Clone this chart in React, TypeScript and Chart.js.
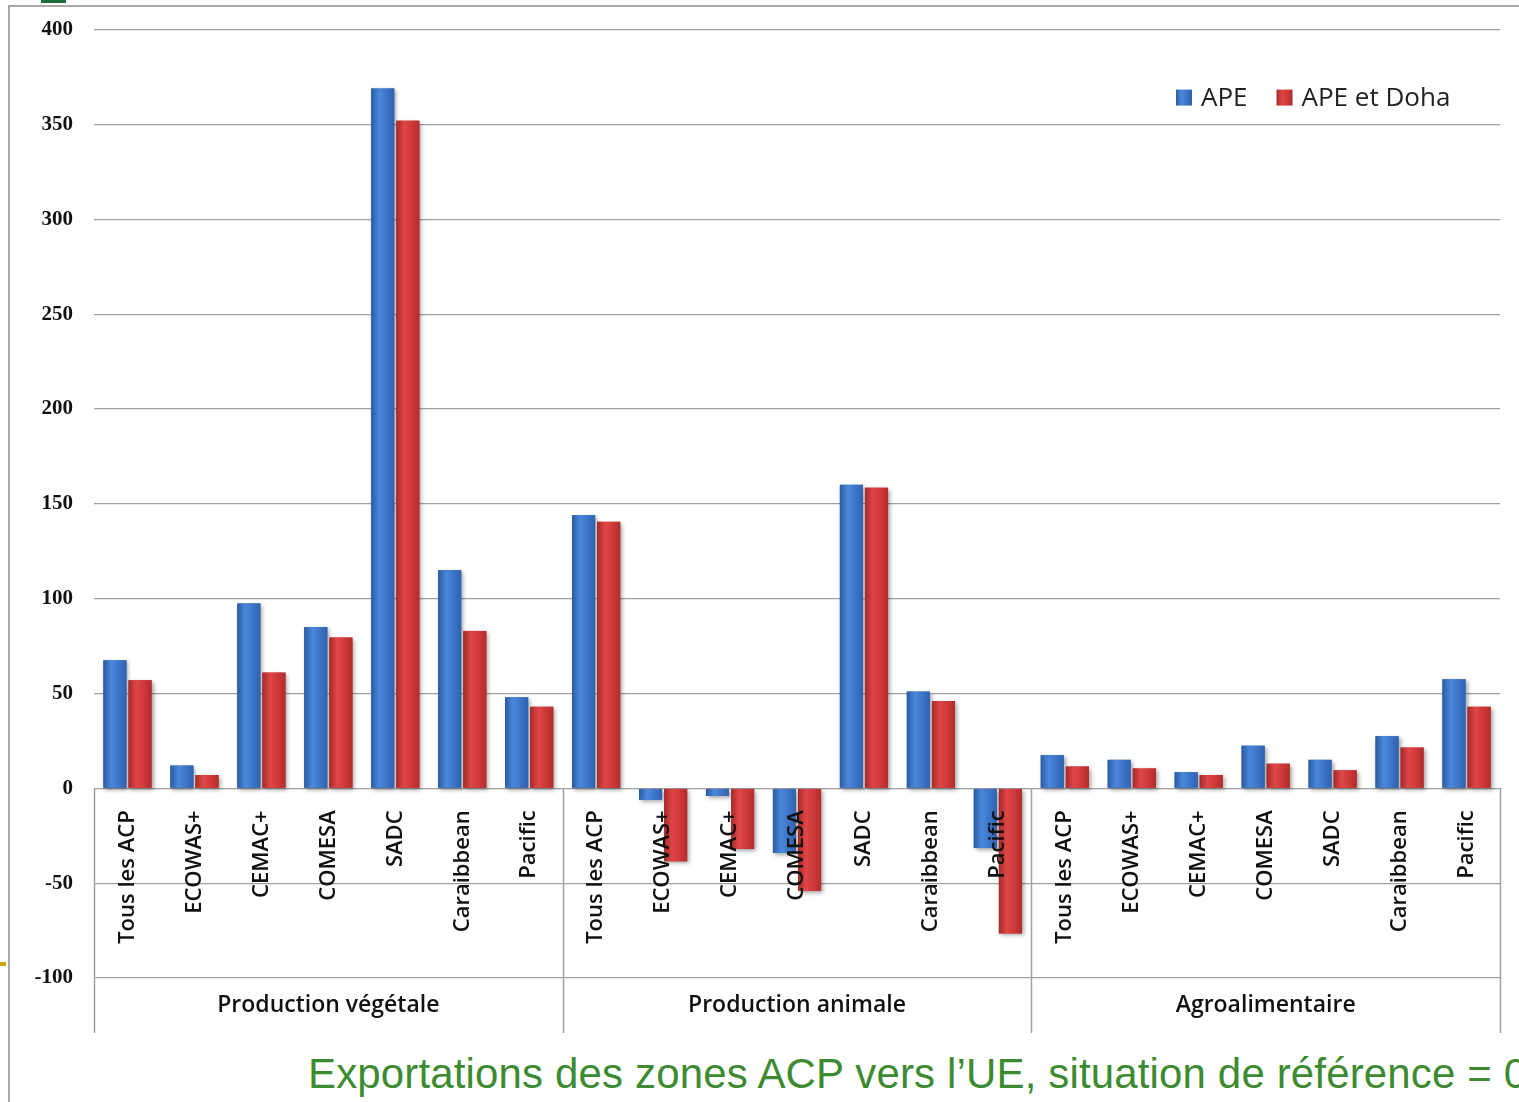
import React, { useEffect, useRef } from "react";
import { Chart, registerables } from "chart.js";

Chart.register(...registerables);

// ---- data ----
const zones = ["Tous les ACP", "ECOWAS+", "CEMAC+", "COMESA", "SADC", "Caraibbean", "Pacific"];
const groups = ["Production végétale", "Production animale", "Agroalimentaire"];

const apeVegetale = [67.5, 12, 97.5, 85, 369, 115, 48];
const apeAnimale = [144, -6, -4, -34, 160, 51, -31.5];
const apeAgro = [17.5, 15, 8.5, 22.5, 15, 27.5, 57.5];

const dohaVegetale = [57, 7, 61, 79.5, 352, 83, 43];
const dohaAnimale = [140.5, -38.5, -32, -54, 158.5, 46, -76.5];
const dohaAgro = [11.5, 10.5, 7, 13, 9.5, 21.5, 43];

const seriesNames = ["APE", "APE et Doha"];
const yTickMin = -100;
const yTickMax = 400;
const yTickStep = 50;

const caption = "Exportations des zones ACP vers l\u2019UE, situation de référence = 0";

const BLUE = "#3a70c2";
const RED = "#c93535";
const shades: Record<string, [string, string, string]> = {
  [BLUE]: ["#2b5aa0", "#4a88dc", "#2f62ae"],
  [RED]: ["#a52a2a", "#e04646", "#b02d2d"],
};

function barGradient(ctx: CanvasRenderingContext2D, x0: number, x1: number, color: string) {
  const s = shades[color];
  const g = ctx.createLinearGradient(x0, 0, x1, 0);
  g.addColorStop(0, s[0]);
  g.addColorStop(0.35, s[1]);
  g.addColorStop(0.75, color);
  g.addColorStop(1, s[2]);
  return g;
}

const barStylePlugin = {
  id: "barStyle",
  beforeDatasetsDraw(chart: any) {
    const ctx = chart.ctx;
    ctx.save();
    ctx.shadowColor = "rgba(0,0,0,0.35)";
    ctx.shadowBlur = 4;
    ctx.shadowOffsetX = 2;
    ctx.shadowOffsetY = 2;
  },
  afterDatasetsDraw(chart: any) {
    const ctx = chart.ctx;
    ctx.restore();
    ctx.save();
    chart.data.datasets.forEach((ds: any, di: number) => {
      const meta = chart.getDatasetMeta(di);
      meta.data.forEach((el: any) => {
        const p = el.getProps(["x", "y", "base", "width"], true);
        const x0 = p.x - p.width / 2;
        const x1 = p.x + p.width / 2;
        const top = Math.min(p.y, p.base);
        const h = Math.abs(p.base - p.y);
        ctx.fillStyle = barGradient(ctx, x0, x1, ds.backgroundColor);
        ctx.fillRect(x0, top, p.width, h);
      });
    });
    ctx.restore();
  },
};

const groupPlugin = {
  id: "groups",
  afterDraw(chart: any) {
    const { ctx, chartArea, scales } = chart;
    const xs = scales.x;
    const ys = scales.y;
    const n = zones.length;
    const y0 = ys.getPixelForValue(0);
    const yEnd = chartArea.bottom + 55;
    ctx.save();
    ctx.strokeStyle = "#a0a0a0";
    ctx.lineWidth = 1.5;
    for (let g = 0; g <= groups.length; g++) {
      const px = Math.round(xs.getPixelForValue(g * n - 0.5)) + 0.5;
      ctx.beginPath();
      ctx.moveTo(px, y0);
      ctx.lineTo(px, yEnd);
      ctx.stroke();
    }
    ctx.fillStyle = "#111";
    ctx.font = "600 23px 'Open Sans'";
    ctx.textAlign = "center";
    ctx.textBaseline = "middle";
    groups.forEach((name, g) => {
      const cx = (xs.getPixelForValue(g * n - 0.5) + xs.getPixelForValue((g + 1) * n - 0.5)) / 2;
      ctx.fillText(name, cx, chartArea.bottom + 27);
    });
    ctx.restore();
  },
};

const legendPlugin = {
  id: "customLegend",
  afterDraw(chart: any) {
    const { ctx, chartArea } = chart;
    ctx.save();
    ctx.font = "26px 'Open Sans'";
    ctx.textBaseline = "middle";
    let x = chartArea.right - 324;
    const yc = chartArea.top + 68;
    chart.data.datasets.forEach((ds: any) => {
      ctx.fillStyle = barGradient(ctx, x, x + 16, ds.backgroundColor);
      ctx.fillRect(x, yc - 8, 16, 16);
      ctx.fillStyle = "#222";
      ctx.fillText(ds.label, x + 25, yc + 1);
      x += 25 + ctx.measureText(ds.label).width + 29;
    });
    ctx.restore();
  },
};

export default function App() {
  const ref = useRef<HTMLCanvasElement>(null);
  useEffect(() => {
    if (!ref.current) return;
    const labels = groups.flatMap(() => zones);
    const chart = new Chart(ref.current, {
      type: "bar",
      data: {
        labels,
        datasets: [
          {
            label: seriesNames[0],
            data: [...apeVegetale, ...apeAnimale, ...apeAgro],
            backgroundColor: BLUE,
          },
          {
            label: seriesNames[1],
            data: [...dohaVegetale, ...dohaAnimale, ...dohaAgro],
            backgroundColor: RED,
          },
        ],
      },
      options: {
        animation: false,
        responsive: false,
        maintainAspectRatio: false,
        datasets: { bar: { categoryPercentage: 0.75, barPercentage: 0.92 } },
        layout: { padding: { top: 25, right: 19, bottom: 62, left: 0 } },
        plugins: { legend: { display: false }, tooltip: { enabled: false } },
        scales: {
          x: {
            position: { y: 0 } as any,
            grid: { display: false, drawTicks: false },
            border: { display: true, color: "#a0a0a0" },
            ticks: {
              z: 1,
              autoSkip: false,
              maxRotation: 90,
              minRotation: 90,
              padding: 22,
              color: "#111",
              font: { family: "'Open Sans'", size: 22, weight: 600 as any },
            },
          },
          y: {
            min: yTickMin,
            max: yTickMax,
            afterFit: (axis: any) => {
              axis.width = 94;
            },
            ticks: {
              stepSize: yTickStep,
              padding: 21,
              color: "#111",
              font: { family: "'Liberation Serif'", size: 21, weight: "bold" },
            },
            grid: { color: "#a0a0a0", lineWidth: 1.2, drawTicks: false },
            border: { display: false },
          },
        },
      },
      plugins: [barStylePlugin, groupPlugin, legendPlugin],
    });
    return () => chart.destroy();
  }, []);

  return (
    <div
      style={{
        position: "fixed",
        left: 0,
        top: 0,
        width: 1519,
        height: 1102,
        background: "#fff",
        overflow: "hidden",
      }}
    >
      <div style={{ position: "absolute", left: 9, top: 5, width: 1510, height: 2, background: "#a8a8a8" }} />
      <div style={{ position: "absolute", left: 8, top: 5, width: 2, height: 1097, background: "#a8a8a8" }} />
      <div style={{ position: "absolute", left: 41, top: 0, width: 25, height: 3, background: "#1c6b3c" }} />
      <div style={{ position: "absolute", left: 0, top: 962, width: 6, height: 4, background: "#d4a017" }} />
      <canvas ref={ref} width={1519} height={1044} style={{ position: "absolute", left: 0, top: -4 }} />
      <div
        style={{
          position: "absolute",
          left: 308,
          top: 1050,
          fontFamily: "'Liberation Sans', Arial, sans-serif",
          fontSize: 42,
          letterSpacing: "0.15px",
          lineHeight: "48px",
          color: "#3d8b30",
          whiteSpace: "nowrap",
        }}
      >
        {caption}
      </div>
    </div>
  );
}
